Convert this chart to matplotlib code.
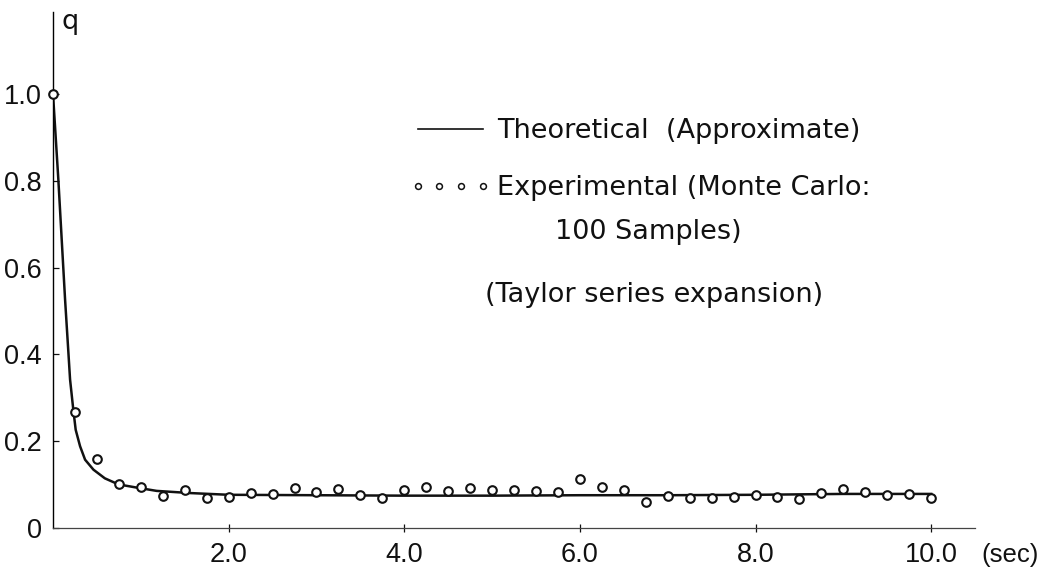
import matplotlib
matplotlib.use("Agg")
import matplotlib.pyplot as plt
from matplotlib.lines import Line2D

# --- data -----------------------------------------------------------------
t_exp = [0.0, 0.25, 0.5, 0.75, 1.0, 1.25, 1.5, 1.75, 2.0, 2.25, 2.5, 2.75,
         3.0, 3.25, 3.5, 3.75, 4.0, 4.25, 4.5, 4.75, 5.0, 5.25, 5.5, 5.75,
         6.0, 6.25, 6.5, 6.75, 7.0, 7.25, 7.5, 7.75, 8.0, 8.25, 8.5, 8.75,
         9.0, 9.25, 9.5, 9.75, 10.0]
q_exp = [1.0, 0.266, 0.159, 0.100, 0.093, 0.074, 0.088, 0.068, 0.070, 0.080,
         0.077, 0.092, 0.082, 0.090, 0.076, 0.068, 0.087, 0.093, 0.085, 0.091,
         0.087, 0.086, 0.085, 0.082, 0.113, 0.095, 0.087, 0.060, 0.074, 0.069,
         0.069, 0.072, 0.076, 0.072, 0.066, 0.080, 0.090, 0.083, 0.075, 0.078,
         0.069]

t_theory = [0.0, 0.06, 0.137, 0.175, 0.194, 0.231, 0.258, 0.308, 0.365,
            0.46, 0.59, 0.745, 0.97, 1.18, 1.56, 2.0, 3.0, 4.0, 5.0, 6.0,
            7.0, 8.0, 9.0, 10.0]
q_theory = [1.0, 0.805, 0.527, 0.404, 0.342, 0.272, 0.226, 0.188, 0.157,
            0.134, 0.114, 0.100, 0.092, 0.085, 0.080, 0.076, 0.075, 0.074,
            0.074, 0.075, 0.075, 0.076, 0.078, 0.078]

x_ticks = [2.0, 4.0, 6.0, 8.0, 10.0]
y_ticks = [0.0, 0.2, 0.4, 0.6, 0.8, 1.0]
y_ticklabels = ["0", "0.2", "0.4", "0.6", "0.8", "1.0"]

plt.rcParams["font.family"] = ["DejaVu Sans"]
FS = 19.5
TICK_FONT = "Liberation Sans"
INK = "#111111"

fig = plt.figure(figsize=(10.46, 5.71), dpi=100)
ax = fig.add_axes([0.0507, 0.0758, 0.8815, 0.903])

ax.plot(t_theory, q_theory, color=INK, lw=1.8, zorder=2)
ax.plot(t_exp, q_exp, ls="none", marker="o", ms=6.2, mew=1.5,
        mfc="white", mec=INK, zorder=3, clip_on=False)

ax.set_xlim(0, 10.5)
ax.set_ylim(0, 1.19)

for s in ("top", "right"):
    ax.spines[s].set_visible(False)
ax.spines["left"].set_linewidth(1.0)
ax.spines["bottom"].set_linewidth(0.9)
ax.spines["bottom"].set_color("#444444")

ax.set_xticks(x_ticks)
ax.set_xticklabels([f"{v:.1f}" for v in x_ticks])
ax.set_yticks(y_ticks)
ax.set_yticklabels(y_ticklabels)
ax.tick_params(axis="x", direction="inout", length=6, width=0.9,
               labelsize=FS, pad=7, colors=INK)
ax.tick_params(axis="y", direction="in", length=4, width=0.9,
               labelsize=FS, pad=8, colors=INK)
for lab in ax.get_xticklabels() + ax.get_yticklabels():
    lab.set_fontfamily(TICK_FONT)

# axis captions
ax.text(0.10, 1.152, "q", fontsize=FS, va="baseline", ha="left",
        clip_on=False, color=INK)
ax.annotate("(sec)", xy=(10.6, 0), xycoords=("data", "axes fraction"),
            xytext=(-2, -15), textcoords="offset pixels", va="top", ha="left",
            fontsize=18.5, family=TICK_FONT, annotation_clip=False, color=INK)

# legend
h_line = Line2D([], [], color=INK, lw=1.2)
h_pts = Line2D([], [], ls="none", marker="o", ms=4.2, mew=1.1,
               mfc="white", mec=INK)
leg = ax.legend([h_line, h_pts],
                ["Theoretical  (Approximate)", "Experimental (Monte Carlo:"],
                loc="upper left", bbox_to_anchor=(4.06, 0.945),
                bbox_transform=ax.transData, frameon=False, fontsize=FS,
                numpoints=4, handlelength=3.0, handletextpad=0.22,
                labelspacing=1.15, borderpad=0, borderaxespad=0)
for txt in leg.get_texts():
    txt.set_color(INK)

ax.text(5.72, 0.667, "100 Samples)", fontsize=FS,
        va="baseline", ha="left", color=INK)
ax.text(4.92, 0.52, "(Taylor series expansion)", fontsize=FS,
        va="baseline", ha="left", color=INK)

fig.savefig("out.png", dpi=100, facecolor="white")
